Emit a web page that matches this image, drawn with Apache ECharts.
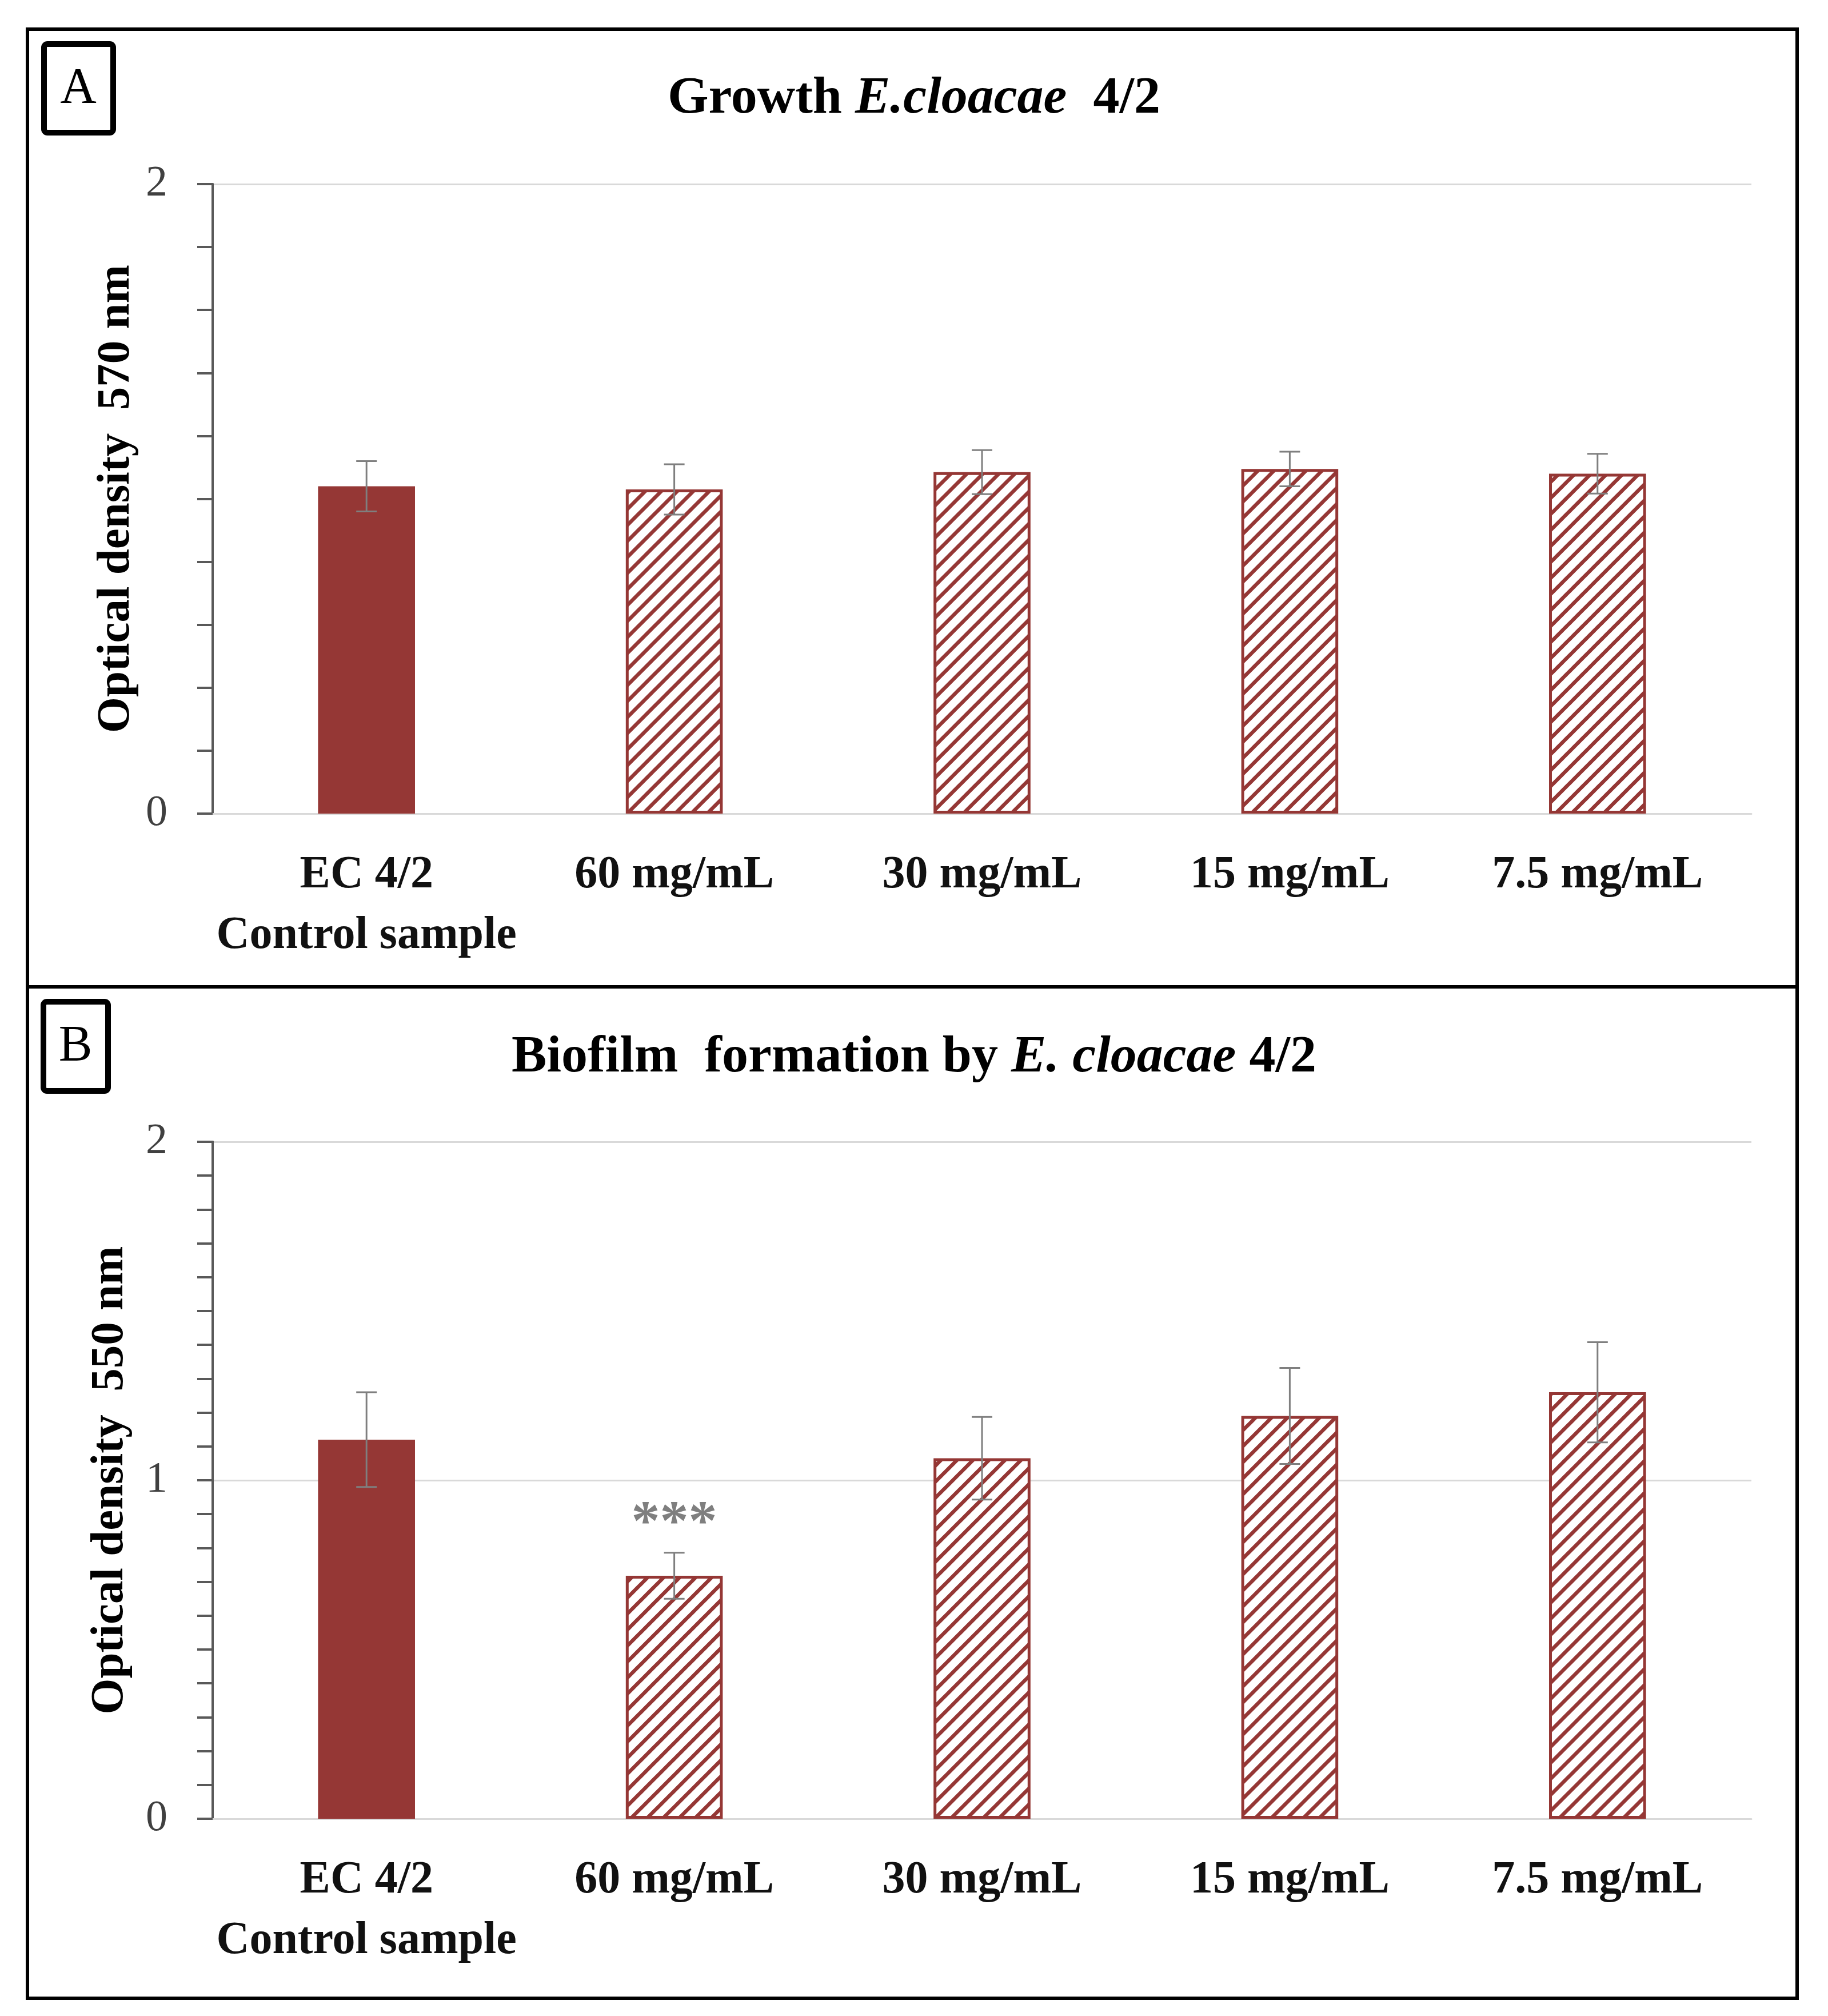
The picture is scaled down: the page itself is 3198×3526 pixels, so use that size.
<!DOCTYPE html>
<html>
<head>
<meta charset="utf-8">
<script src="https://cdn.jsdelivr.net/npm/echarts@6/dist/echarts.min.js"></script>
<style>
  html, body { margin: 0; padding: 0; background: #ffffff; }
  #chart { width: 3198px; height: 3526px; }
</style>
</head>
<body>
<div id="chart"></div>
<script>
// ---------------- data ----------------
const categories = ['EC 4/2\nControl sample', '60 mg/mL', '30 mg/mL', '15 mg/mL', '7.5 mg/mL'];
const growthValues = [1.04, 1.03, 1.085, 1.095, 1.08];
const growthErrors = [0.08, 0.08, 0.07, 0.055, 0.063];
const biofilmValues = [1.12, 0.718, 1.065, 1.19, 1.26];
const biofilmErrors = [0.14, 0.068, 0.122, 0.142, 0.148];
const growthSignificance = ['', '', '', '', ''];
const biofilmSignificance = ['', '***', '', '', ''];
const titleA = ['Growth ', 'E.cloacae', '  4/2'];
const titleB = ['Biofilm  formation by ', 'E. cloacae', ' 4/2'];
const yNameA = 'Optical density  570 nm';
const yNameB = 'Optical density  550 nm';
const yLabelStepA = 2, yTickStepA = 0.2;
const yLabelStepB = 1, yTickStepB = 0.1;

// ---------------- styles ----------------
const RED = '#953735';
const SERIF = '"Liberation Serif", "Times New Roman", serif';
const AXIS = '#595959';

function hatchPattern() {
  const s = 28;
  const c = document.createElement('canvas');
  c.width = s; c.height = s;
  const ctx = c.getContext('2d');
  ctx.fillStyle = '#ffffff';
  ctx.fillRect(0, 0, s, s);
  ctx.strokeStyle = RED;
  ctx.lineWidth = 6.5;
  ctx.beginPath();
  [0, s, 2 * s].forEach(function (k) {
    ctx.moveTo(-s, k + s);
    ctx.lineTo(2 * s, k - 2 * s);
  });
  ctx.stroke();
  return c;
}
const pattern = { image: hatchPattern(), repeat: 'repeat' };

function barData(values) {
  return values.map(function (v, i) {
    if (i === 0) {
      return { value: v, itemStyle: { color: RED, borderColor: RED, borderWidth: 0 } };
    }
    return { value: v, itemStyle: { color: pattern, borderColor: RED, borderWidth: 5 } };
  });
}

function errData(values, errs) {
  return values.map(function (v, i) { return [i, v, errs[i]]; });
}

function makeRenderErr(sig) {
  return function (params, api) {
    const i = api.value(0), v = api.value(1), e = api.value(2);
    const top = api.coord([i, v + e]);
    const bot = api.coord([i, v - e]);
    const hw = 18;
    const st = { stroke: '#7f7f7f', lineWidth: 3 };
    const children = [
      { type: 'line', shape: { x1: top[0], y1: top[1], x2: bot[0], y2: bot[1] }, style: st },
      { type: 'line', shape: { x1: top[0] - hw, y1: top[1], x2: top[0] + hw, y2: top[1] }, style: st },
      { type: 'line', shape: { x1: bot[0] - hw, y1: bot[1], x2: bot[0] + hw, y2: bot[1] }, style: st }
    ];
    const s = sig[params.dataIndex];
    if (s) {
      children.push({
        type: 'text',
        x: top[0], y: top[1] - 50,
        style: {
          text: s,
          font: 'bold 100px ' + SERIF, fill: '#7f7f7f',
          align: 'center', verticalAlign: 'middle'
        }
      });
    }
    return { type: 'group', children: children };
  };
}

// main y axis: labels, grid lines, name
function yAxisCfg(gridIndex, interval, name, gap) {
  return {
    type: 'value', gridIndex: gridIndex, min: 0, max: 2, interval: interval, position: 'left', offset: 0,
    name: name, nameLocation: 'middle', nameRotate: 90, nameGap: gap,
    nameTextStyle: { fontFamily: SERIF, fontWeight: 'bold', fontSize: 81, color: '#000' },
    axisLine: { show: true, lineStyle: { color: AXIS, width: 4 } },
    axisTick: { show: true, length: 27, lineStyle: { color: AXIS, width: 4 } },
    splitLine: { show: true, lineStyle: { color: '#d9d9d9', width: 3 } },
    axisLabel: { margin: 79, fontFamily: SERIF, fontSize: 76, color: '#404040',
      formatter: function (v) { return String(Math.round(v)); } }
  };
}

// overlay y axis: only the fine tick marks
function yTickAxisCfg(gridIndex, interval) {
  return {
    type: 'value', gridIndex: gridIndex, min: 0, max: 2, interval: interval, position: 'left', offset: 0,
    axisLine: { show: true, lineStyle: { color: AXIS, width: 4 } },
    axisTick: { show: true, length: 27, lineStyle: { color: AXIS, width: 4 } },
    splitLine: { show: false },
    axisLabel: { show: false }
  };
}

function xAxisCfg(gridIndex) {
  return {
    type: 'category', gridIndex: gridIndex, data: categories,
    axisLine: { show: true, lineStyle: { color: '#d9d9d9', width: 3 } },
    axisTick: { show: false },
    axisLabel: { margin: 55, interval: 0, fontFamily: SERIF, fontWeight: 'bold',
      fontSize: 80, lineHeight: 106, color: '#111', verticalAlign: 'top' }
  };
}

function titleCfg(parts, top) {
  return {
    left: 'center', top: top,
    text: '{b|' + parts[0] + '}{i|' + parts[1] + '}{b|' + parts[2] + '}',
    textStyle: {
      rich: {
        b: { fontFamily: SERIF, fontWeight: 'bold', fontSize: 92, color: '#000', lineHeight: 110 },
        i: { fontFamily: SERIF, fontWeight: 'bold', fontStyle: 'italic', fontSize: 92, color: '#000', lineHeight: 110 }
      }
    }
  };
}

const chart = echarts.init(document.getElementById('chart'), null, { renderer: 'canvas' });
chart.setOption({
  backgroundColor: '#ffffff',
  animation: false,
  title: [titleCfg(titleA, 113), titleCfg(titleB, 1790)],
  grid: [
    { left: 372, right: 134, top: 322, height: 1101 },
    { left: 372, right: 134, top: 1997, height: 1184 }
  ],
  xAxis: [xAxisCfg(0), xAxisCfg(1)],
  yAxis: [
    yAxisCfg(0, yLabelStepA, yNameA, 127),
    yAxisCfg(1, yLabelStepB, yNameB, 138),
    yTickAxisCfg(0, yTickStepA),
    yTickAxisCfg(1, yTickStepB)
  ],
  series: [
    { type: 'bar', xAxisIndex: 0, yAxisIndex: 0, barWidth: '31.5%', data: barData(growthValues), z: 2 },
    { type: 'custom', xAxisIndex: 0, yAxisIndex: 0, renderItem: makeRenderErr(growthSignificance), data: errData(growthValues, growthErrors), z: 5 },
    { type: 'bar', xAxisIndex: 1, yAxisIndex: 1, barWidth: '31.5%', data: barData(biofilmValues), z: 2 },
    { type: 'custom', xAxisIndex: 1, yAxisIndex: 1, renderItem: makeRenderErr(biofilmSignificance), data: errData(biofilmValues, biofilmErrors), z: 5 }
  ],
  graphic: [
    { type: 'rect', shape: { x: 48, y: 51, width: 3096, height: 3444 }, style: { fill: 'none', stroke: '#000', lineWidth: 6 }, silent: true },
    { type: 'line', shape: { x1: 45, y1: 1726, x2: 3147, y2: 1726 }, style: { stroke: '#000', lineWidth: 6 }, silent: true },
    { type: 'rect', shape: { x: 77, y: 77, width: 121, height: 155, r: 6 }, style: { fill: '#fff', stroke: '#000', lineWidth: 10 }, silent: true },
    { type: 'text', x: 137, y: 156, style: { text: 'A', font: '88px ' + SERIF, fill: '#000', align: 'center', verticalAlign: 'middle' }, silent: true },
    { type: 'rect', shape: { x: 76, y: 1752, width: 113, height: 156, r: 6 }, style: { fill: '#fff', stroke: '#000', lineWidth: 10 }, silent: true },
    { type: 'text', x: 132, y: 1831, style: { text: 'B', font: '88px ' + SERIF, fill: '#000', align: 'center', verticalAlign: 'middle' }, silent: true }
  ]
});
</script>
</body>
</html>
